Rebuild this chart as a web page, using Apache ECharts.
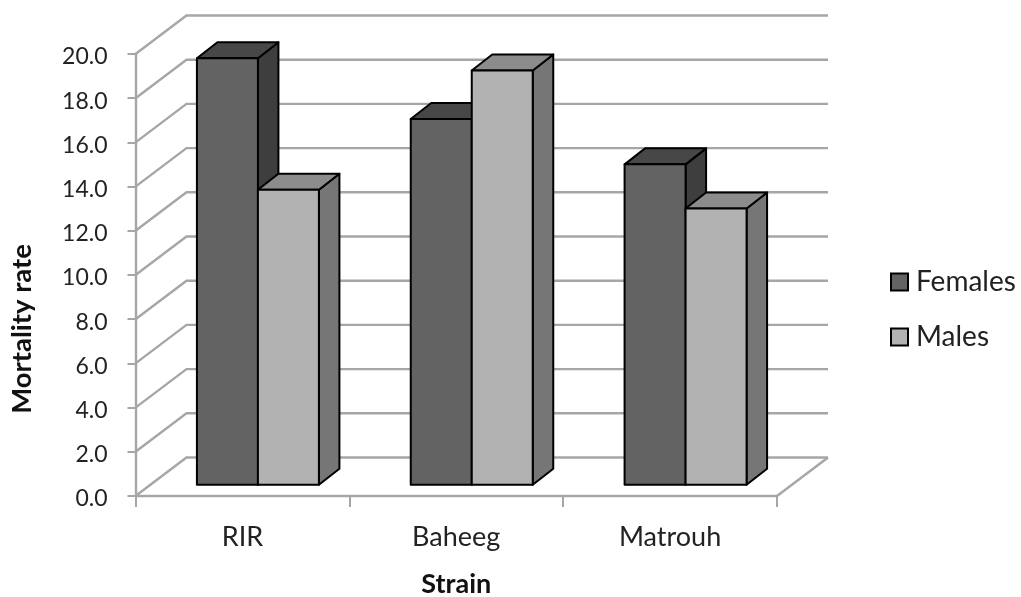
<!DOCTYPE html>
<html>
<head>
<meta charset="utf-8">
<script src="https://cdn.jsdelivr.net/npm/echarts@6/dist/echarts.min.js"></script>
<style>
  html, body { margin: 0; padding: 0; background: #fff; }
  #chart { width: 1021px; height: 597px; }
</style>
</head>
<body>
<div id="chart"></div>
<script>
var categories = ['RIR', 'Baheeg', 'Matrouh'];
var females = [19.3, 16.55, 14.5];
var males = [13.35, 18.75, 12.5];
var yTicks = [0, 2, 4, 6, 8, 10, 12, 14, 16, 18, 20];

var fontName = 'Lato';
var lineGrey = '#a6a6a6';

// how far the back wall sits from the axis plane
var wallDx = 51, wallDy = -38.5;
// bars stand a bit in front of the wall
var barDx = 15.5, barDy = -11.2, depthDx = 20.5, depthDy = -16;
var barWidth = 61;

function wallItem(params, api) {
  var cs = params.coordSys;
  var y = api.coord([0, api.value(0)])[1];
  var x0 = cs.x, x1 = cs.x + cs.width;
  var style = { fill: 'none', stroke: lineGrey, lineWidth: 2.4 };
  var kids = [{
    type: 'polyline',
    shape: { points: [[x0, y], [x0 + wallDx, y + wallDy], [x1 + wallDx, y + wallDy]] },
    style: style
  }];
  if (api.value(0) === 0) {
    kids.push({
      type: 'line',
      shape: { x1: x1, y1: y, x2: x1 + wallDx, y2: y + wallDy },
      style: style
    });
  }
  return { type: 'group', children: kids };
}

function barItem(side, front, top, right) {
  return function (params, api) {
    var cat = api.value(0);
    var base = api.coord([cat, 0]);
    var head = api.coord([cat, api.value(1)]);
    var xl = base[0] + barDx + (side < 0 ? -barWidth : 0);
    var xr = xl + barWidth;
    var yb = base[1] + barDy;
    var yt = head[1] + barDy;
    var edge = { stroke: '#000', lineWidth: 2, lineJoin: 'round' };
    function poly(points, fill) {
      return { type: 'polygon', shape: { points: points }, style: Object.assign({ fill: fill }, edge) };
    }
    return {
      type: 'group',
      children: [
        poly([[xr, yb], [xr + depthDx, yb + depthDy], [xr + depthDx, yt + depthDy], [xr, yt]], right),
        poly([[xl, yt], [xl + depthDx, yt + depthDy], [xr + depthDx, yt + depthDy], [xr, yt]], top),
        poly([[xl, yb], [xr, yb], [xr, yt], [xl, yt]], front)
      ]
    };
  };
}

function pairs(values) {
  return values.map(function (v, i) { return [i, v]; });
}

var chart = echarts.init(document.getElementById('chart'));

var option = {
  animation: false,
  grid: { left: 135.5, right: 244, top: 54, bottom: 101, outerBoundsMode: 'none' },
  legend: {
    orient: 'vertical',
    left: 885,
    top: 263,
    itemWidth: 17,
    itemHeight: 17,
    itemGap: 27,
    icon: 'rect',
    data: ['Females', 'Males'],
    textStyle: { fontFamily: fontName, fontSize: 28, color: '#222', padding: [0, 0, 0, 3] }
  },
  xAxis: {
    type: 'category',
    data: categories,
    name: 'Strain',
    nameLocation: 'middle',
    nameGap: 75,
    nameTextStyle: { fontFamily: fontName, fontWeight: 'bold', fontSize: 27, color: '#111' },
    axisLine: { lineStyle: { color: lineGrey, width: 2.4 } },
    axisTick: { show: true, alignWithLabel: false, length: 11, lineStyle: { color: lineGrey, width: 2 } },
    axisLabel: { margin: 28, fontFamily: fontName, fontSize: 27, color: '#222' }
  },
  yAxis: {
    type: 'value',
    min: 0,
    max: 20,
    interval: 2,
    splitLine: { show: false },
    axisLine: { show: true, lineStyle: { color: lineGrey, width: 2.4 } },
    axisTick: { show: true, length: 8, lineStyle: { color: lineGrey, width: 2 } },
    axisLabel: {
      margin: 28,
      verticalAlign: 'top',
      lineHeight: 6,
      fontFamily: fontName,
      fontSize: 23,
      color: '#222',
      formatter: function (v) { return v.toFixed(1); }
    }
  },
  graphic: [{
    type: 'text',
    x: 22,
    y: 329,
    rotation: Math.PI / 2,
    style: {
      text: 'Mortality rate',
      fontFamily: fontName,
      fontWeight: 'bold',
      fontSize: 27.5,
      fill: '#111',
      align: 'center',
      verticalAlign: 'middle'
    }
  }],
  series: [
    {
      type: 'custom',
      silent: true,
      clip: false,
      z: 1,
      encode: { y: 0 },
      data: yTicks.map(function (t) { return [t]; }),
      renderItem: wallItem
    },
    {
      name: 'Females',
      type: 'custom',
      clip: false,
      z: 2,
      encode: { x: 0, y: 1 },
      itemStyle: { color: '#636363', borderColor: '#000', borderWidth: 2.4 },
      data: pairs(females),
      renderItem: barItem(-1, '#636363', '#474747', '#3e3e3e')
    },
    {
      name: 'Males',
      type: 'custom',
      clip: false,
      z: 3,
      encode: { x: 0, y: 1 },
      itemStyle: { color: '#b2b2b2', borderColor: '#000', borderWidth: 2.4 },
      data: pairs(males),
      renderItem: barItem(1, '#b2b2b2', '#8c8c8c', '#767676')
    }
  ]
};

chart.setOption(option);
</script>
</body>
</html>
